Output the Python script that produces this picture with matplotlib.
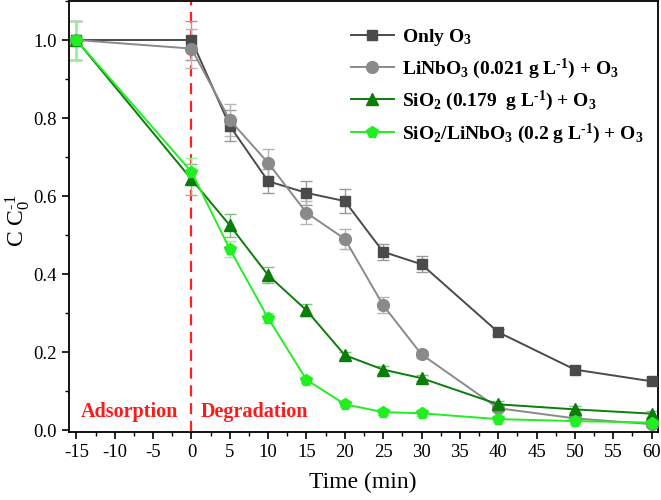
import matplotlib
matplotlib.use("Agg")
import matplotlib.pyplot as plt
from matplotlib.ticker import MultipleLocator

plt.rcParams['font.family'] = ['Liberation Serif', 'DejaVu Serif']
plt.rcParams['mathtext.fontset'] = 'custom'
plt.rcParams['mathtext.rm'] = 'Liberation Serif'
plt.rcParams['mathtext.it'] = 'Liberation Serif'
plt.rcParams['mathtext.bf'] = 'Liberation Serif:bold'
plt.rcParams['axes.unicode_minus'] = False

time = [-15, 0, 5, 10, 15, 20, 25, 30, 40, 50, 60]
only_o3 = [1.0, 1.0, 0.78, 0.638, 0.608, 0.587, 0.457, 0.425, 0.251, 0.155, 0.125]
linbo3 = [1.0, 0.978, 0.795, 0.685, 0.557, 0.49, 0.32, 0.194, 0.056, 0.03, 0.015]
sio2 = [1.0, 0.643, 0.525, 0.397, 0.307, 0.192, 0.155, 0.133, 0.066, 0.053, 0.042]
sio2_linbo3 = [1.0, 0.662, 0.464, 0.287, 0.129, 0.066, 0.046, 0.043, 0.028, 0.023, 0.019]

err_only = [0.05, 0.05, 0.04, 0.03, 0.03, 0.03, 0.02, 0.02, 0.008, 0.008, 0.008]
err_li = [0.05, 0.05, 0.04, 0.035, 0.03, 0.025, 0.02, 0.008, 0.008, 0.008, 0.008]
err_si = [0.05, 0.04, 0.03, 0.02, 0.015, 0.008, 0.008, 0.008, 0.008, 0.008, 0.008]
err_sl = [0.05, 0.035, 0.02, 0.012, 0.008, 0.008, 0.008, 0.008, 0.008, 0.008, 0.008]

labels = [r'Only O$_\mathbf{3}$',
          r'LiNbO$_\mathbf{3}$ (0.021 g L$^\mathbf{\text{-}1}$) + O$_\mathbf{3}$',
          r'SiO$_\mathbf{2}$ (0.179  g L$^\mathbf{\text{-}1}$) + O$_\mathbf{3}$',
          r'SiO$_\mathbf{2}$/LiNbO$_\mathbf{3}$ (0.2 g L$^\mathbf{\text{-}1}$) + O$_\mathbf{3}$']

fig = plt.figure(figsize=(6.61, 5.0), dpi=100)
ax = fig.add_axes([0.104, 0.136, 0.891, 0.862])

series = [
    (only_o3, err_only, '#4a4a4a', 's', 7.5, '#9a9a9a'),
    (linbo3, err_li, '#8a8a8a', 'o', 8.5, '#b5b5b5'),
    (sio2, err_si, '#0a7d0a', '^', 8.5, '#7fbf7f'),
    (sio2_linbo3, err_sl, '#22ee22', 'p', 8.5, '#99ee99'),
]
for (y, e, c, m, ms, ec), lab in zip(series, labels):
    ax.errorbar(time, y, yerr=e, fmt='none', ecolor=ec, elinewidth=1, capsize=4, zorder=2)
    ax.plot(time, y, color=c, marker=m, markersize=ms, linewidth=1.4, label=lab, zorder=3)

ax.axvline(0, color='#ff2020', linestyle=(0, (5, 3)), linewidth=1.6, zorder=1)

ax.text(-8.1, 0.046, 'Adsorption', color='#ff1a1a', fontsize=14.5, fontweight='bold',
        ha='center', va='center')
ax.text(8.2, 0.046, 'Degradation', color='#ff1a1a', fontsize=14.5, fontweight='bold',
        ha='center', va='center')

ax.set_xlim(-16.0, 60.8)
ax.set_ylim(-0.005, 1.10)
ax.xaxis.set_major_locator(MultipleLocator(5))
ax.xaxis.set_minor_locator(MultipleLocator(2.5))
ax.yaxis.set_minor_locator(MultipleLocator(0.1))
ax.set_yticks([0.0, 0.2, 0.4, 0.6, 0.8, 1.0])
ax.set_yticklabels(['0.0', '0.2', '0.4', '0.6', '0.8', '1.0'])
ax.tick_params(which='major', direction='out', length=5, width=1.2, labelsize=13.5)
ax.tick_params(which='minor', direction='out', length=3, width=1.0)
ax.tick_params(top=False, right=False, which='both')
for s in ax.spines.values():
    s.set_linewidth(1.3)

ax.set_xlabel('Time (min)', fontsize=17, labelpad=8)
ax.set_ylabel(r'C C$_0^{\text{-}1}$', fontsize=17, labelpad=2)
ax.yaxis.set_label_coords(-0.062, 0.49)

leg = ax.legend(loc='upper right', bbox_to_anchor=(1.005, 0.98), frameon=False,
                prop={'weight': 'bold', 'size': 14}, handlelength=2.2,
                labelspacing=0.42, handletextpad=0.4)

fig.savefig('out.png', dpi=100)
